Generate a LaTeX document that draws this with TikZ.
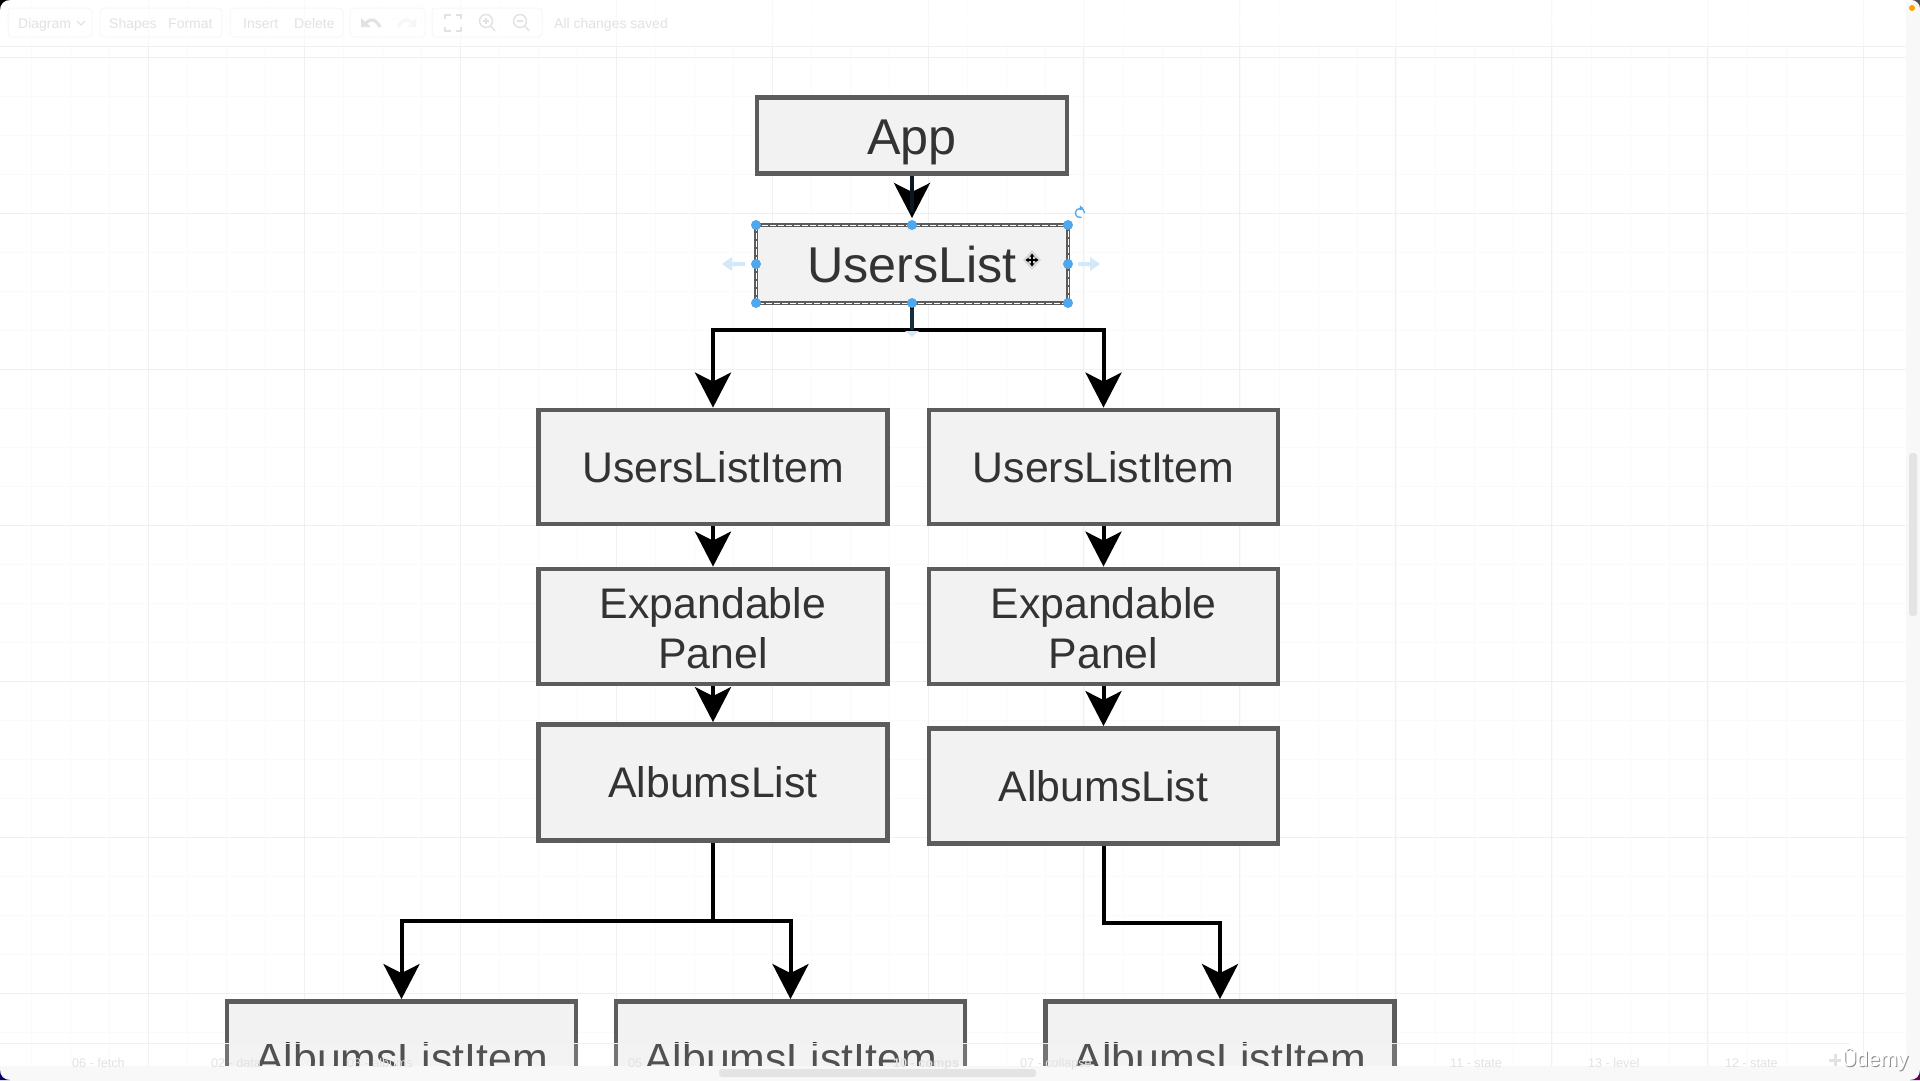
\documentclass[tikz,border=0pt]{standalone}
\usepackage{fontspec}
\setmainfont{Liberation Sans}
\usetikzlibrary{arrows.meta,calc}
\definecolor{boxline}{HTML}{5C5C5C}
\definecolor{boxfill}{HTML}{F2F2F2}
\definecolor{ink}{HTML}{333333}
\definecolor{gridmajor}{HTML}{F0F0F0}
\definecolor{gridminor}{HTML}{FAFAFA}
\definecolor{handle}{HTML}{4FA8EE}
\definecolor{ghost}{HTML}{D3E8F8}
\definecolor{stem}{HTML}{14303C}
\definecolor{faint}{HTML}{E2E2E2}
\definecolor{faintbox}{HTML}{F7F7F7}
\definecolor{band}{HTML}{F8F8F8}
\newcommand{\panelline}[1]{\raisebox{-16.5pt}[0pt][0pt]{#1}}
\tikzset{
  x=1pt,y=-1pt,
  box/.style={draw=boxline,fill=boxfill,line width=4.8pt,inner sep=0pt,text=ink,align=center,
    font=\fontsize{42.8}{50}\selectfont,text height=30.6pt,text depth=0pt},
  wide/.style={box,minimum width=349pt,minimum height=114pt},
  top/.style={box,minimum width=312pt,minimum height=78pt,font=\fontsize{50.3}{50}\selectfont,text height=36pt,outer sep=0pt},
  conn/.style={draw=black,line width=4pt,-{Stealth[length=35pt,width=36pt,inset=9pt]}},
  plain/.style={draw=black,line width=4pt},
  handledot/.style={circle,fill=handle,inner sep=0pt,minimum size=10pt},
  tool/.style={text=faint,font=\fontsize{14}{14}\selectfont,inner sep=0pt,anchor=base west},
  tab/.style={text=faint,font=\fontsize{12.6}{14}\selectfont,inner sep=0pt,anchor=base west},
  toolgroup/.style={draw=faintbox,line width=1pt,rounded corners=4pt},
  faintline/.style={draw=faint,line width=1.4pt},
}
\begin{document}
\begin{tikzpicture}
\useasboundingbox (0,0) rectangle (1920,1080);
\clip (-10,-10) rectangle (1930,1090);
\fill[white] (-10,-10) rectangle (1930,1090);
% grid
\foreach \k in {-3,...,45}{
  \draw[gridminor,line width=1pt] ({31.5+39*\k},0) -- ({31.5+39*\k},1080);
  \draw[gridminor,line width=1pt] (0,{18.7+39*\k}) -- (1920,{18.7+39*\k});
}
\foreach \k in {0,...,11}{
  \draw[gridmajor,line width=1pt] ({148.5+155.9*\k},0) -- ({148.5+155.9*\k},1080);
}
\foreach \k in {0,...,6}{
  \draw[gridmajor,line width=1pt] (0,{57.7+156*\k}) -- (1920,{57.7+156*\k});
}
% boxes
\node[box,minimum width=310pt,minimum height=76pt,font=\fontsize{50.3}{50}\selectfont,text height=37.5pt] (app) at (912,135.5) {App};
\node[top] (users) at (912,264) {UsersList};
\node[wide] (itemL) at (713,467) {UsersListItem};
\node[wide] (itemR) at (1103.5,467) {UsersListItem};
\node[wide,minimum height=115pt,text height=,text depth=] (panelL) at (713,626.5) {\panelline{Expandable}\\\panelline{Panel}};
\node[wide,minimum height=115pt,text height=,text depth=] (panelR) at (1103.5,626.5) {\panelline{Expandable}\\\panelline{Panel}};
\node[wide,minimum height=116pt] (albumsL) at (713,782.5) {AlbumsList};
\node[wide,minimum height=115pt] (albumsR) at (1103.5,786) {AlbumsList};
\node[wide] (leafA) at (401.5,1058.5) {AlbumsListItem};
\node[wide] (leafB) at (790.5,1058.5) {AlbumsListItem};
\node[wide] (leafC) at (1220,1058.5) {AlbumsListItem};
% connectors
\coordinate (busTop) at (0,330);
\coordinate (busL) at (0,921);
\coordinate (busR) at (0,923);
\draw[conn] (app.south) -- ($(users.north)+(0,-7)$);
\draw[conn] (users.south |- busTop) -| (itemL.north);
\draw[conn] (users.south |- busTop) -| (itemR.north);
\draw[plain] (users.south) -- (users.south |- busTop);
\draw[conn] (itemL.south) -- (panelL.north);
\draw[conn] (itemR.south) -- (panelR.north);
\draw[conn] (panelL.south) -- (albumsL.north);
\draw[conn] (panelR.south) -- (albumsR.north);
\draw[plain] (albumsL.south) -- (albumsL.south |- busL);
\draw[conn] (albumsL.south |- busL) -| (leafA.north);
\draw[conn] (albumsL.south |- busL) -| (leafB.north);
\draw[conn] (albumsR.south) |- (leafC.north |- busR) -- (leafC.north);
% selection of UsersList
\draw[white,line width=1pt,dash pattern=on 6pt off 2pt] (users.north west) rectangle (users.south east);
\coordinate (stemB) at (912,212);
\draw[stem!70!black,opacity=.75,line width=4pt] (app.south) -- (stemB);
\coordinate (stemC) at (912,309);
\draw[stem,line width=4pt] (stemC) -- (users.south |- busTop);
\fill[ghost] (905,331) -- (919,331) -- (912,337) -- cycle;
\foreach \a in {north west,north,north east,west,east,south west,south,south east}{
  \node[handledot] at (users.\a) {};
}
\fill[ghost] (722,264) -- (732,257) -- (732,262) -- (745,262) -- (745,266) -- (732,266) -- (732,271) -- cycle;
\fill[ghost] (1100,264) -- (1090,257) -- (1090,262) -- (1078,262) -- (1078,266) -- (1090,266) -- (1090,271) -- cycle;
\draw[handle,line width=1.3pt] (1084.6,213) arc[start angle=0,end angle=290,radius=4.6pt];
\fill[handle] (1080,205.5) -- (1083.5,208.3) -- (1079.5,210.5) -- cycle;
% cursor
\fill[black!15] (1032,250) -- (1041,260) -- (1032,270) -- (1023,260) -- cycle;
\draw[black,line width=1.3pt,{Stealth[length=3.5pt,width=5pt]}-{Stealth[length=3.5pt,width=5pt]}] (1025.5,260) -- (1038.5,260);
\draw[black,line width=1.3pt,{Stealth[length=3.5pt,width=5pt]}-{Stealth[length=3.5pt,width=5pt]}] (1032,253.5) -- (1032,266.5);
% top toolbar veil
\fill[white,opacity=.65] (0,0) rectangle (1920,46);
\draw[gridmajor,line width=1pt] (0,46) -- (1906,46);
\draw[toolgroup] (8,8) rectangle (92,37);
\draw[toolgroup] (100,8) rectangle (222,37);
\draw[toolgroup] (230,8) rectangle (343,37);
\draw[toolgroup] (350,8) rectangle (425,37);
\draw[toolgroup] (432,8) rectangle (542,37);
\node[tool] (tDiagram) at (18,28) {Diagram};
\node[tool] (tShapes) at (109,28) {Shapes};
\node[tool] (tFormat) at (168,28) {Format};
\node[tool] (tInsert) at (243,28) {Insert};
\node[tool] (tDelete) at (294,28) {Delete};
\node[tool] (tSaved) at (554,28) {All changes saved};
\draw[faintline] (77,21) -- (81,25) -- (85,21);
% undo / redo
\draw[faint,line width=3pt] (366,23) .. controls (372,17) and (376,20) .. (380,27);
\fill[faint] (361,18) -- (361,27) -- (371,27) -- cycle;
\draw[faintbox,line width=3pt] (412,23) .. controls (406,17) and (402,20) .. (398,27);
\fill[faintbox] (416,18) -- (416,27) -- (407,27) -- cycle;
% fullscreen
\draw[faintline] (445,19) -- (445,15) -- (451,15);
\draw[faintline] (456,15) -- (461,15) -- (461,19);
\draw[faintline] (445,27) -- (445,31) -- (451,31);
\draw[faintline] (456,31) -- (461,31) -- (461,27);
% zoom in / out
\draw[faintline] (486,21) circle[radius=6.5pt];
\draw[faintline] (491,26) -- (495,31);
\draw[faintline] (483,21) -- (489,21) (486,18) -- (486,24);
\draw[faintline] (520,21) circle[radius=6.5pt];
\draw[faintline] (525,26) -- (529,31);
\draw[faintline] (517,21) -- (523,21);
% right strip and scrollbar
\fill[band] (1906,-10) rectangle (1930,1090);
\fill[gridmajor!95!black,rounded corners=3pt] (1909,453) rectangle (1917,616);
% bottom tabs
\fill[white,opacity=.15] (0,1043) rectangle (1906,1066);
\draw[gridmajor,line width=1pt] (0,1043) -- (1850,1043);
\fill[band] (-10,1066) rectangle (1930,1090);
\node[tab] (t06) at (72,1067) {06 - fetch};
\node[tab] (t02) at (211,1067) {02 - data};
\node[tab] (t03) at (347,1067) {03 - albums};
\node[tab] (t11) at (1450,1067) {11 - state};
\node[tab] (t13) at (1588,1067) {13 - level};
\node[tab] (t12) at (1725,1067) {12 - state};
\node[tab] (t05) at (628,1067) {05};
\node[tab,font=\bfseries\fontsize{12.6}{14}\selectfont] (t10) at (893,1067) {10 - comps};
\node[tab] (t07) at (1020,1067) {07 - collapse};
\fill[gridmajor!95!black,rounded corners=3pt] (719,1069) rectangle (1036,1077);
% plus and watermark
\draw[faint,line width=3pt] (1835,1054) -- (1835,1066) (1829,1060) -- (1841,1060);
\node[inner sep=0pt,text=black!45,font=\fontsize{21}{21}\selectfont] (wmS) at (1876,1060) {Ûdemy};
\node[inner sep=0pt,text=white,font=\fontsize{21}{21}\selectfont] (wm) at (1875,1059) {Ûdemy};
% window corners
\fill[black] (0,0) -- (10,0) .. controls (4,0) and (0,4) .. (0,10) -- cycle;
\fill[white] (1906,0) -- (1911,0) -- (1911,4) -- cycle;
\fill[black!70] (1920,0) -- (1912,0) .. controls (1916,0) and (1920,4) .. (1920,8) -- cycle;
\fill[orange!75!yellow] (1912,8) circle[radius=3pt];
\fill[blue!40!black] (0,1080) -- (10,1080) .. controls (4,1080) and (0,1076) .. (0,1070) -- cycle;
\fill[violet!80!black] (1920,1080) -- (1910,1080) .. controls (1916,1080) and (1920,1076) .. (1920,1070) -- cycle;
\end{tikzpicture}
\end{document}
